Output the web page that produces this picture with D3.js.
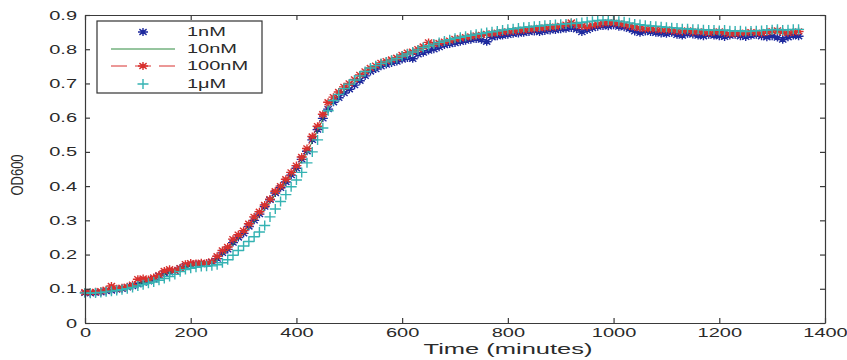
<!DOCTYPE html>
<html>
<head>
<meta charset="utf-8">
<script src="https://cdn.jsdelivr.net/npm/d3@7"></script>
<style>
  body { margin: 0; background: #fff; }
  text { font-family: "Liberation Sans", Arial, sans-serif; }
</style>
</head>
<body>
<div id="graph"></div>
<script>
// sampling times (minutes)
var time = [
  0,10,20,30,40,50,60,70,80,90,
  100,110,120,130,140,150,160,170,180,190,
  200,210,220,230,240,250,260,270,280,290,
  300,310,320,330,340,350,360,370,380,390,
  400,410,420,430,440,450,460,470,480,490,
  500,510,520,530,540,550,560,570,580,590,
  600,610,620,630,640,650,660,670,680,690,
  700,710,720,730,740,750,760,770,780,790,
  800,810,820,830,840,850,860,870,880,890,
  900,910,920,930,940,950,960,970,980,990,
  1000,1010,1020,1030,1040,1050,1060,1070,1080,1090,
  1100,1110,1120,1130,1140,1150,1160,1170,1180,1190,
  1200,1210,1220,1230,1240,1250,1260,1270,1280,1290,
  1300,1310,1320,1330,1340,1350];

var od1nM = [
  0.088,0.087,0.089,0.090,0.093,0.095,0.098,0.100,0.104,0.108,
  0.113,0.118,0.122,0.128,0.138,0.145,0.148,0.152,0.160,0.166,
  0.170,0.172,0.172,0.174,0.178,0.188,0.205,0.215,0.235,0.250,
  0.262,0.282,0.300,0.318,0.340,0.360,0.380,0.395,0.412,0.432,
  0.452,0.478,0.502,0.535,0.565,0.598,0.625,0.645,0.658,0.672,
  0.683,0.695,0.708,0.722,0.735,0.742,0.750,0.755,0.760,0.764,
  0.770,0.774,0.772,0.785,0.790,0.796,0.800,0.806,0.812,0.815,
  0.818,0.822,0.825,0.828,0.830,0.828,0.822,0.835,0.838,0.840,
  0.842,0.845,0.846,0.848,0.850,0.852,0.850,0.853,0.855,0.856,
  0.858,0.860,0.862,0.858,0.850,0.856,0.862,0.866,0.868,0.867,
  0.870,0.866,0.864,0.860,0.852,0.848,0.852,0.850,0.848,0.846,
  0.845,0.848,0.842,0.840,0.845,0.843,0.840,0.838,0.842,0.840,
  0.838,0.836,0.840,0.842,0.838,0.836,0.840,0.842,0.838,0.835,
  0.838,0.834,0.828,0.835,0.840,0.838];

var od10nM = [
  0.089,0.089,0.090,0.091,0.094,0.097,0.099,0.101,0.104,0.108,
  0.114,0.119,0.123,0.128,0.135,0.142,0.147,0.151,0.157,0.163,
  0.168,0.170,0.171,0.172,0.176,0.186,0.200,0.212,0.230,0.246,
  0.260,0.278,0.296,0.314,0.334,0.354,0.374,0.392,0.410,0.430,
  0.450,0.474,0.498,0.530,0.562,0.596,0.628,0.650,0.666,0.680,
  0.692,0.704,0.716,0.728,0.740,0.748,0.755,0.761,0.766,0.771,
  0.777,0.783,0.788,0.794,0.800,0.806,0.810,0.814,0.818,0.822,
  0.826,0.829,0.832,0.835,0.838,0.840,0.842,0.845,0.847,0.849,
  0.851,0.853,0.855,0.857,0.858,0.860,0.861,0.862,0.864,0.865,
  0.866,0.868,0.870,0.868,0.866,0.868,0.871,0.874,0.876,0.877,
  0.876,0.874,0.872,0.869,0.864,0.861,0.860,0.859,0.857,0.856,
  0.855,0.855,0.852,0.851,0.853,0.850,0.849,0.848,0.848,0.848,
  0.847,0.846,0.846,0.846,0.846,0.845,0.847,0.848,0.846,0.846,
  0.848,0.848,0.845,0.846,0.849,0.849];

var od100nM = [
  0.090,0.090,0.091,0.093,0.097,0.108,0.100,0.103,0.106,0.112,
  0.128,0.130,0.127,0.133,0.140,0.152,0.157,0.153,0.160,0.172,
  0.175,0.174,0.176,0.175,0.180,0.195,0.212,0.222,0.245,0.258,
  0.270,0.290,0.310,0.325,0.345,0.362,0.385,0.400,0.420,0.440,
  0.460,0.485,0.510,0.545,0.575,0.610,0.645,0.660,0.675,0.690,
  0.700,0.712,0.725,0.735,0.745,0.752,0.760,0.765,0.770,0.775,
  0.783,0.790,0.793,0.800,0.808,0.820,0.815,0.818,0.822,0.825,
  0.830,0.832,0.835,0.837,0.840,0.842,0.845,0.846,0.848,0.850,
  0.852,0.853,0.855,0.856,0.858,0.860,0.862,0.863,0.865,0.866,
  0.868,0.872,0.878,0.870,0.868,0.866,0.870,0.873,0.876,0.878,
  0.877,0.875,0.872,0.868,0.865,0.862,0.860,0.860,0.858,0.857,
  0.857,0.855,0.853,0.852,0.855,0.850,0.852,0.850,0.848,0.850,
  0.852,0.848,0.845,0.846,0.847,0.848,0.850,0.848,0.847,0.850,
  0.853,0.855,0.850,0.848,0.850,0.852];

var od1uM = [
  0.088,0.087,0.088,0.089,0.091,0.093,0.095,0.097,0.100,0.104,
  0.108,0.112,0.116,0.120,0.125,0.130,0.136,0.142,0.150,0.156,
  0.160,0.163,0.165,0.166,0.167,0.170,0.176,0.185,0.198,0.212,
  0.225,0.238,0.252,0.266,0.285,0.310,0.333,0.355,0.375,0.398,
  0.418,0.440,0.468,0.500,0.535,0.570,0.620,0.650,0.668,0.685,
  0.698,0.710,0.722,0.735,0.745,0.752,0.758,0.763,0.768,0.773,
  0.780,0.786,0.792,0.798,0.805,0.810,0.815,0.820,0.824,0.828,
  0.832,0.835,0.838,0.841,0.844,0.846,0.849,0.851,0.853,0.856,
  0.858,0.860,0.862,0.864,0.865,0.867,0.868,0.870,0.871,0.872,
  0.873,0.874,0.875,0.876,0.878,0.880,0.882,0.884,0.885,0.885,
  0.884,0.882,0.880,0.877,0.874,0.872,0.870,0.868,0.867,0.866,
  0.864,0.863,0.862,0.860,0.860,0.858,0.858,0.857,0.856,0.856,
  0.855,0.856,0.854,0.853,0.854,0.852,0.853,0.854,0.855,0.856,
  0.857,0.858,0.856,0.857,0.858,0.858];

var seriesNames = ["1nM", "10nM", "100nM", "1\u03bcM"];
var xTicks = [0, 200, 400, 600, 800, 1000, 1200, 1400];
var yTicks = [0, 0.1, 0.2, 0.3, 0.4, 0.5, 0.6, 0.7, 0.8, 0.9];

const width = 847, height = 360;
const plotLeft = 85, plotRight = 825, plotTop = 15, plotBottom = 323;
const stretch = 1.6;   // the picture is wide, text looks stretched

var series = [
  {name: seriesNames[0], values: od1nM,   color: "#1f2a9e", marker: "star", line: null},
  {name: seriesNames[1], values: od10nM,  color: "#2e8b3e", marker: null,   line: "solid"},
  {name: seriesNames[2], values: od100nM, color: "#d8302e", marker: "star", line: "dash"},
  {name: seriesNames[3], values: od1uM,   color: "#35b3b3", marker: "plus", line: null}
];

function markerPath(type) {
  var wx = 5, hy = 4, a = 3.6, b = 2.9;
  if (type == "plus") { wx = 5.5; hy = 5; return "M"+(-wx)+",0H"+wx+"M0,"+(-hy)+"V"+hy; }
  return "M"+(-wx)+",0H"+wx+"M0,"+(-hy)+"V"+hy+
    "M"+(-a)+","+(-b)+"L"+a+","+b+"M"+(-a)+","+b+"L"+a+","+(-b);
}

var svg = d3.select("div#graph").append("svg")
  .attr("width", width)
  .attr("height", height)
  .style("display", "block");

var x = d3.scaleLinear().domain([0, 1400]).range([plotLeft, plotRight]);
var y = d3.scaleLinear().domain([0, 0.9]).range([plotBottom, plotTop]);

// data
var line = d3.line().x((d, i) => x(time[i])).y(d => y(d));
series.forEach(function(s) {
  var g = svg.append("g").attr("class", "series");
  if (s.line) {
    g.append("path")
      .attr("d", line(s.values))
      .attr("fill", "none")
      .attr("stroke", s.color)
      .attr("stroke-width", 1)
      .attr("stroke-dasharray", s.line == "dash" ? "6,4" : null);
  }
  if (s.marker) {
    g.selectAll("path.m").data(s.values).enter().append("path")
      .attr("class", "m")
      .attr("transform", (d, i) => "translate(" + x(time[i]) + "," + y(d) + ")")
      .attr("d", markerPath(s.marker))
      .attr("fill", "none")
      .attr("stroke", s.color)
      .attr("stroke-width", 1.4);
  }
});

// axes, matlab style box with inward ticks
function styleAxis(g) {
  g.attr("font-size", 12.5).attr("font-family", "Liberation Sans, Arial, sans-serif");
  g.selectAll("path, line").attr("stroke", "#3a3a3a").attr("stroke-width", 1.2);
  g.selectAll("text").attr("fill", "#2a2a2a");
}
var gx = svg.append("g").attr("transform", "translate(0," + plotBottom + ")")
  .call(d3.axisBottom(x).tickValues(xTicks).tickFormat(d3.format("d"))
    .tickSize(-5).tickSizeOuter(0).tickPadding(5));
styleAxis(gx);
gx.selectAll("text").attr("transform", "scale(" + stretch + ",1)");

var gy = svg.append("g").attr("transform", "translate(" + plotLeft + ",0)")
  .call(d3.axisLeft(y).tickValues(yTicks).tickFormat(d => d == 0 ? "0" : d3.format(".1f")(d))
    .tickSize(-5).tickSizeOuter(0).tickPadding(5));
styleAxis(gy);
gy.selectAll("text").attr("transform", "scale(" + stretch + ",1)");

var gt = svg.append("g").attr("transform", "translate(0," + plotTop + ")")
  .call(d3.axisTop(x).tickValues(xTicks).tickSize(-5).tickSizeOuter(0).tickFormat(""));
styleAxis(gt);
var gr = svg.append("g").attr("transform", "translate(" + plotRight + ",0)")
  .call(d3.axisRight(y).tickValues(yTicks).tickSize(-5).tickSizeOuter(0).tickFormat(""));
styleAxis(gr);

// axis titles
svg.append("text")
  .attr("transform", "translate(508,354) scale(1.7,1)")
  .attr("text-anchor", "middle")
  .attr("font-size", 15)
  .attr("fill", "#2a2a2a")
  .text("Time (minutes)");
svg.append("text")
  .attr("transform", "translate(23,175) scale(1.2,1) rotate(-90)")
  .attr("text-anchor", "middle")
  .attr("font-size", 13)
  .attr("fill", "#2a2a2a")
  .text("OD600");

// legend
var leg = svg.append("g").attr("transform", "translate(97,21)");
leg.append("rect")
  .attr("width", 165).attr("height", 72)
  .attr("fill", "#fff").attr("stroke", "#333").attr("stroke-width", 1.2);
var items = leg.selectAll("g.item").data(series).enter().append("g")
  .attr("class", "item")
  .attr("transform", (d, i) => "translate(0," + [11, 28, 45, 63][i] + ")");
items.filter(d => d.line).append("line")
  .attr("x1", 14).attr("x2", 78)
  .attr("stroke", d => d.color).attr("stroke-width", 1)
  .attr("stroke-dasharray", d => d.line == "dash" ? "16,8" : null);
items.filter(d => d.marker).append("path")
  .attr("transform", "translate(46,0)")
  .attr("d", d => markerPath(d.marker))
  .attr("fill", "none")
  .attr("stroke", d => d.color)
  .attr("stroke-width", 1.4);
items.append("text")
  .attr("transform", "translate(90,0) scale(" + stretch + ",1)")
  .attr("dy", "0.35em")
  .attr("font-size", 12.5)
  .attr("fill", "#2a2a2a")
  .text(d => d.name);
</script>
</body>
</html>
